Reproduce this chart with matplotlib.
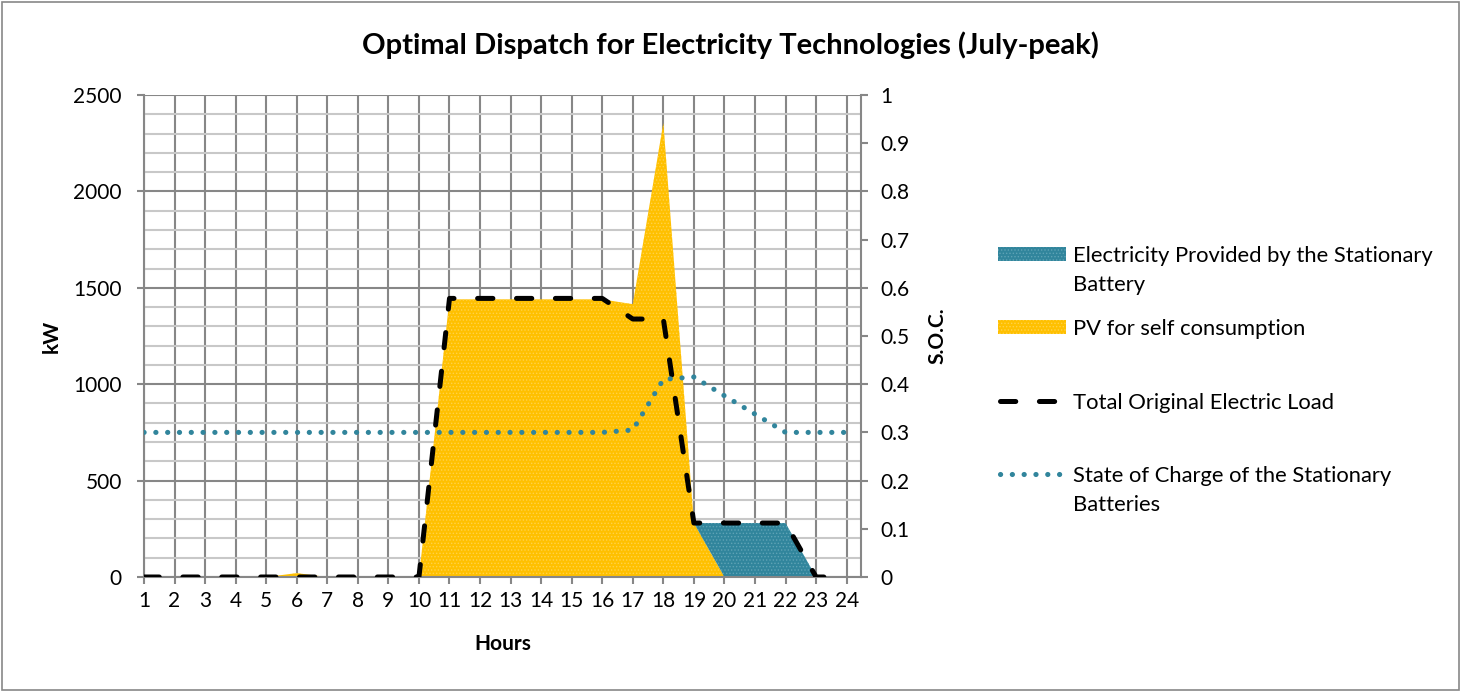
import matplotlib
matplotlib.use("Agg")
import matplotlib.pyplot as plt
from matplotlib.lines import Line2D
from matplotlib.patches import Rectangle
from matplotlib.ticker import MultipleLocator

plt.rcParams['font.family'] = ['Lato', 'DejaVu Sans']
plt.rcParams['lines.scale_dashes'] = False
plt.rcParams['hatch.linewidth'] = 0.6

# --- dane godzinowe ---
hours = list(range(1, 25))
pv_self = [0, 0, 0, 0, 0, 20, 0, 0, 0, 0, 1440, 1440, 1440, 1440, 1440, 1440,
           1415, 2355, 280, 0, 0, 0, 0, 0]
battery = [0, 0, 0, 0, 0, 0, 0, 0, 0, 0, 0, 0, 0, 0, 0, 0,
           0, 0, 0, 280, 280, 280, 0, 0]
load = [0, 0, 0, 0, 0, 0, 0, 0, 0, 0, 1445, 1445, 1445, 1445, 1445, 1445,
        1338, 1338, 280, 280, 280, 280, 0, 0]
soc = [0.3, 0.3, 0.3, 0.3, 0.3, 0.3, 0.3, 0.3, 0.3, 0.3, 0.3, 0.3, 0.3, 0.3, 0.3, 0.3,
       0.305, 0.41, 0.415, 0.376, 0.338, 0.3, 0.3, 0.3]
soc_ticks = [0, 0.1, 0.2, 0.3, 0.4, 0.5, 0.6, 0.7, 0.8, 0.9, 1]
soc_ticklabels = ['0', '0.1', '0.2', '0.3', '0.4', '0.5', '0.6', '0.7', '0.8', '0.9', '1']

labels = ["Electricity Provided by the Stationary\nBattery",
          "PV for self consumption",
          "Total Original Electric Load",
          "State of Charge of the Stationary\nBatteries"]

YELLOW = '#FFC000'
YELLOW_DOTS = '#FFD24A'
TEAL = '#31859C'
TEAL_DOTS = '#5FA3B6'
GRID = '#878787'
MINOR = '#C8C8C8'
LOAD_STYLE = dict(color='black', lw=3.6, dashes=(11, 17), dash_capstyle='round')
SOC_STYLE = dict(color=TEAL, lw=3.7, dashes=(0.1, 8.4), dash_capstyle='round')

W, H = 1461, 692
fig = plt.figure(figsize=(W / 100, H / 100), dpi=100)
ax = fig.add_axes([144 / W, 1 - 577 / H, (861 - 144) / W, (577 - 95) / H])
ax2 = ax.twinx()

# --- obszary skumulowane: PV na dole, bateria na górze ---
areas = ax.stackplot(hours, pv_self, battery, colors=[YELLOW, TEAL], linewidth=0, zorder=2)
for poly, dots in zip(areas, [YELLOW_DOTS, TEAL_DOTS]):
    poly.set_edgecolor(dots)
    poly.set_hatch('.....')

ax.plot(hours, load, zorder=4, **LOAD_STYLE)
ax2.plot(hours, soc, zorder=5, **SOC_STYLE)

ax.set_xlim(1, 24.47)
ax.set_ylim(0, 2500)
ax2.set_ylim(0, 1)

ax.set_xticks(hours)
ax.yaxis.set_major_locator(MultipleLocator(500))
ax.yaxis.set_minor_locator(MultipleLocator(100))
ax2.set_yticks(soc_ticks)
ax2.set_yticklabels(soc_ticklabels)

ax.grid(which='minor', axis='y', color=MINOR, lw=1.5, zorder=0)
ax.grid(which='major', axis='y', color=GRID, lw=1.5, zorder=0)
ax.grid(which='major', axis='x', color=GRID, lw=1.5, zorder=0)
ax.set_axisbelow(True)

for a in (ax, ax2):
    for s in a.spines.values():
        s.set_visible(False)
for s in (ax.spines['left'], ax.spines['bottom'], ax2.spines['right']):
    s.set_visible(True)
    s.set_color(GRID)
    s.set_linewidth(1.5)

ax.tick_params(axis='both', which='major', length=5, width=1.5, color=GRID,
               labelsize=15)
ax.tick_params(axis='y', pad=11)
ax.tick_params(axis='x', pad=5)
ax.tick_params(axis='y', which='minor', length=0)
ax2.tick_params(axis='y', length=5, width=1.5, color=GRID, labelsize=15, pad=9)

ax.set_xlabel('Hours', fontsize=15, fontweight='bold', labelpad=17)
ax.set_ylabel('kW', fontsize=15, fontweight='bold', labelpad=8)
ax2.set_ylabel('S.O.C.', fontsize=15, fontweight='bold', labelpad=13)

fig.suptitle('Optimal Dispatch for Electricity Technologies (July-peak)',
             fontsize=21, fontweight='bold', x=0.5, y=1 - 45 / H, va='center')

# --- legenda rysowana ręcznie ---
def fx(px):
    return px / W

def fy(py):
    return 1 - py / H

for py, face, dots in [(254, TEAL, TEAL_DOTS), (327, YELLOW, YELLOW_DOTS)]:
    fig.add_artist(Rectangle((fx(998), fy(py + 7)), fx(68), 14 / H, facecolor=face,
                             edgecolor=dots, lw=0, hatch='.....',
                             transform=fig.transFigure))
fig.add_artist(Line2D([fx(1000), fx(1066)], [fy(401), fy(401)],
                      transform=fig.transFigure, **LOAD_STYLE))
fig.add_artist(Line2D([fx(1000), fx(1066)], [fy(474), fy(474)],
                      transform=fig.transFigure, **SOC_STYLE))
for lbl, py in zip(labels, [254, 327, 401, 474]):
    for k, line in enumerate(lbl.split('\n')):
        fig.text(fx(1073), fy(py + 29 * k), line, fontsize=15.8,
                 va='center_baseline', ha='left', transform=fig.transFigure)

# obramowanie całego wykresu
fig.add_artist(Rectangle((2 / W, 2 / H), 1 - 4 / W, 1 - 4 / H, fill=False,
                         edgecolor=GRID, lw=1.2, transform=fig.transFigure))

fig.savefig('out.png', dpi=100)
